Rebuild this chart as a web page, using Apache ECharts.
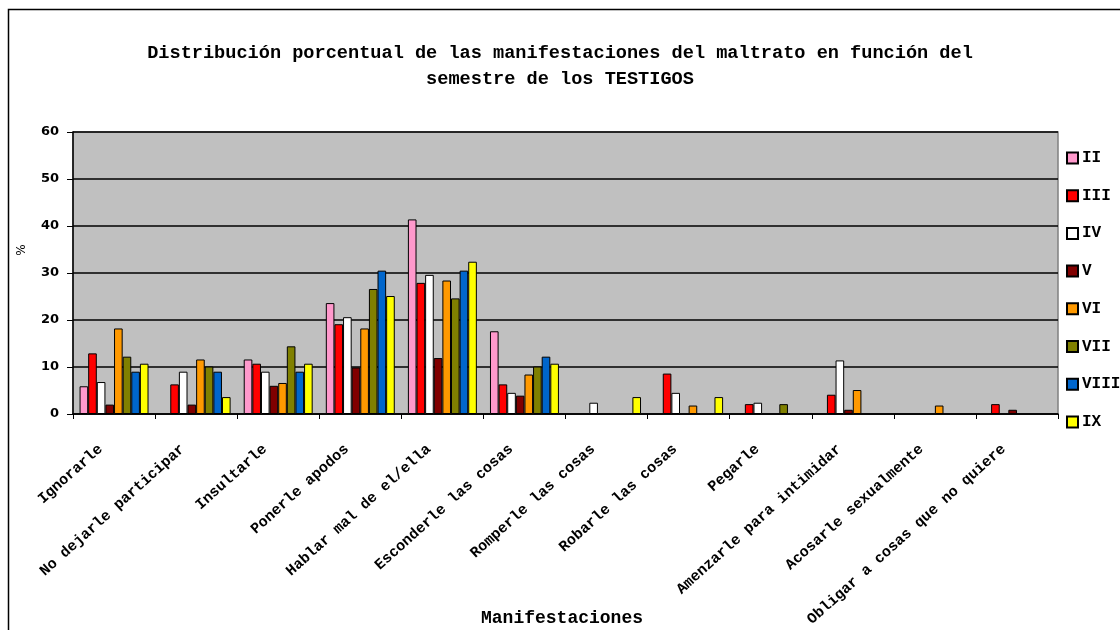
<!DOCTYPE html>
<html><head><meta charset="utf-8">
<script src="https://cdn.jsdelivr.net/npm/echarts@6/dist/echarts.min.js"></script>
<style>html,body{margin:0;padding:0;background:#fff}#c{width:1120px;height:630px}</style>
</head><body><div id="c"></div>
<script>
const categories = ["Ignorarle","No dejarle participar","Insultarle","Ponerle apodos","Hablar mal de el/ella","Esconderle las cosas","Romperle las cosas","Robarle las cosas","Pegarle","Amenzarle para intimidar","Acosarle sexualmente","Obligar a cosas que no quiere"];
const seriesNames = ["II","III","IV","V","VI","VII","VIII","IX"];
const sII   = [5.9, null, 11.6, 23.6, 41.4, 17.6, null, null, null, null, null, null];
const sIII  = [12.9, 6.3, 10.7, 19.1, 27.9, 6.3, null, 8.6, 2.1, 4.1, null, 2.1];
const sIV   = [6.8, 9.0, 9.0, 20.6, 29.6, 4.5, 2.4, 4.5, 2.4, 11.4, null, null];
const sV    = [2.0, 2.0, 6.0, 9.9, 11.9, 3.9, null, null, null, 0.9, null, 0.9];
const sVI   = [18.2, 11.6, 6.6, 18.2, 28.4, 8.4, null, 1.8, null, 5.1, 1.8, null];
const sVII  = [12.2, 10.1, 14.4, 26.6, 24.6, 10.1, null, null, 2.1, null, null, null];
const sVIII = [9.0, 9.0, 9.0, 30.5, 30.5, 12.2, null, null, null, null, null, null];
const sIX   = [10.7, 3.6, 10.7, 25.1, 32.4, 10.7, 3.6, 3.6, null, null, null, null];
const yTicks = [0, 10, 20, 30, 40, 50, 60];
const xAxisTitle = 'Manifestaciones';
const yAxisTitle = '%';

const allData = [sII, sIII, sIV, sV, sVI, sVII, sVIII, sIX];
const colors = ["#FF99CC","#FF0000","#FFFFFF","#800000","#FF9900","#808000","#0066CC","#FFFF00"];
const mono = "'Liberation Mono','Courier New',monospace";
const sans = "'DejaVu Sans',Verdana,sans-serif";

const chart = echarts.init(document.getElementById('c'), null, {renderer:'canvas'});
chart.setOption({
  animation: false,
  backgroundColor: '#fff',
  title: {
    text: 'Distribución porcentual de las manifestaciones del maltrato en función del\nsemestre de los TESTIGOS',
    left: 555, top: 35, textAlign: 'center',
    textStyle: {fontFamily: mono, fontWeight: 'bold', fontSize: 18.6, lineHeight: 26, color: '#000'}
  },
  graphic: [{
    type: 'rect', shape: {x: 8.5, y: 9.5, width: 1130, height: 640},
    style: {fill: 'none', stroke: '#000', lineWidth: 1.5}, z: -1
  }, {
    type: 'text', x: 562, y: 618,
    style: {text: xAxisTitle, font: "bold 18px " + mono, fill: '#000', align: 'center', verticalAlign: 'middle'}
  }, {
    type: 'text', x: 22, y: 250, rotation: Math.PI / 2,
    style: {text: yAxisTitle, font: "12px " + sans, fill: '#000', align: 'center', verticalAlign: 'middle'}
  }],
  legend: {
    orient: 'vertical', left: 1061, top: 145,
    itemWidth: 11, itemHeight: 11, itemGap: 21.7,
    icon: 'rect',
    data: seriesNames,
    textStyle: {fontFamily: mono, fontWeight: 'bold', fontSize: 16, color: '#000', padding: [0,0,0,-1]}
  },
  grid: {
    left: 73, right: 62, top: 132, bottom: 216,
    outerBoundsMode: 'none', containLabel: false,
    show: true, backgroundColor: '#C0C0C0', borderColor: '#808080', borderWidth: 1.5
  },
  xAxis: {
    type: 'category', data: categories,
    axisLine: {lineStyle: {color: '#000', width: 1.5}},
    axisTick: {show: true, length: 5, lineStyle: {color: '#000'}},
    axisLabel: {interval: 0, rotate: 42, margin: 21, padding: [0, 18, 0, 0], fontFamily: mono, fontWeight: 'bold', fontSize: 15, color: '#000'}
  },
  yAxis: {
    type: 'value', min: yTicks[0], max: yTicks[yTicks.length-1], interval: 10,
    axisLine: {show: true, lineStyle: {color: '#000', width: 1.5}},
    axisTick: {show: true, length: 6, lineStyle: {color: '#000'}},
    axisLabel: {fontFamily: sans, fontWeight: 'bold', fontSize: 13, color: '#000', margin: 14},
    splitLine: {show: true, lineStyle: {color: '#000', width: 1.5}}
  },
  series: seriesNames.map((n, i) => ({
    name: n, type: 'bar', data: allData[i],
    barGap: '0%', barCategoryGap: '16%',
    itemStyle: {color: colors[i], borderColor: '#000', borderWidth: 1}
  }))
});
</script>
</body></html>
